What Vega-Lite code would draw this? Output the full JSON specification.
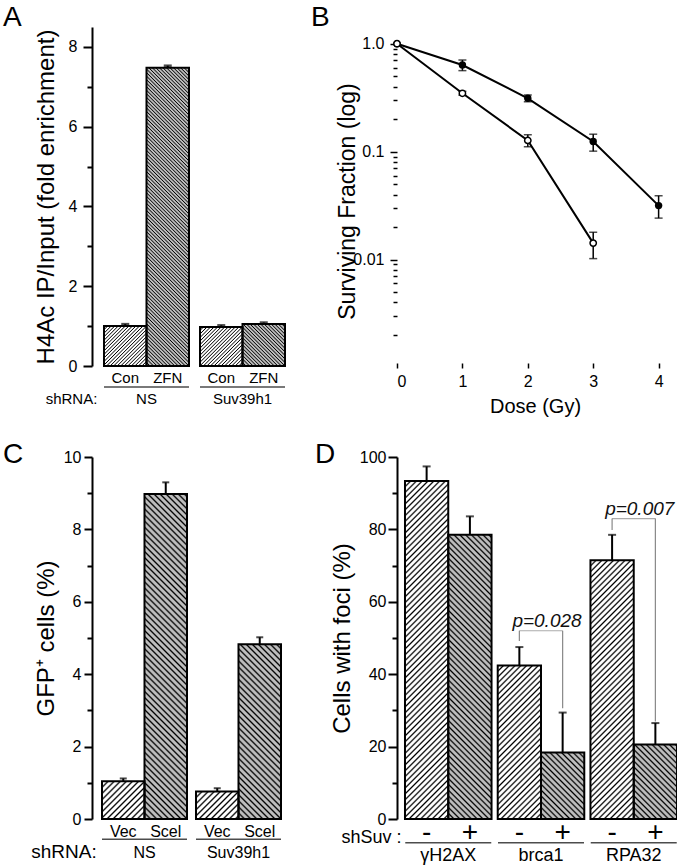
{
"$schema":"https://vega.github.io/schema/vega-lite/v6.json",
"autosize":{"type":"none"},
"padding":{"left":92,"top":27,"right":585,"bottom":841},
"background":"white",
"params":[{"name":"hatch","value":[
{"offset":0,"color":"#000"},{"offset":0.003,"color":"#0000"},{"offset":0.007,"color":"#0000"},
{"offset":0.01,"color":"#000"},{"offset":0.013,"color":"#0000"},{"offset":0.017,"color":"#0000"},
{"offset":0.02,"color":"#000"},{"offset":0.023,"color":"#0000"},{"offset":0.027,"color":"#0000"},
{"offset":0.03,"color":"#000"},{"offset":0.033,"color":"#0000"},{"offset":0.037,"color":"#0000"},
{"offset":0.04,"color":"#000"},{"offset":0.043,"color":"#0000"},{"offset":0.047,"color":"#0000"},
{"offset":0.05,"color":"#000"},{"offset":0.053,"color":"#0000"},{"offset":0.057,"color":"#0000"},
{"offset":0.06,"color":"#000"},{"offset":0.063,"color":"#0000"},{"offset":0.067,"color":"#0000"},
{"offset":0.07,"color":"#000"},{"offset":0.073,"color":"#0000"},{"offset":0.077,"color":"#0000"},
{"offset":0.08,"color":"#000"},{"offset":0.083,"color":"#0000"},{"offset":0.087,"color":"#0000"},
{"offset":0.09,"color":"#000"},{"offset":0.093,"color":"#0000"},{"offset":0.097,"color":"#0000"},
{"offset":0.1,"color":"#000"},{"offset":0.103,"color":"#0000"},{"offset":0.107,"color":"#0000"},
{"offset":0.11,"color":"#000"},{"offset":0.113,"color":"#0000"},{"offset":0.117,"color":"#0000"},
{"offset":0.12,"color":"#000"},{"offset":0.123,"color":"#0000"},{"offset":0.127,"color":"#0000"},
{"offset":0.13,"color":"#000"},{"offset":0.133,"color":"#0000"},{"offset":0.137,"color":"#0000"},
{"offset":0.14,"color":"#000"},{"offset":0.143,"color":"#0000"},{"offset":0.147,"color":"#0000"},
{"offset":0.15,"color":"#000"},{"offset":0.153,"color":"#0000"},{"offset":0.157,"color":"#0000"},
{"offset":0.16,"color":"#000"},{"offset":0.163,"color":"#0000"},{"offset":0.167,"color":"#0000"},
{"offset":0.17,"color":"#000"},{"offset":0.173,"color":"#0000"},{"offset":0.177,"color":"#0000"},
{"offset":0.18,"color":"#000"},{"offset":0.183,"color":"#0000"},{"offset":0.187,"color":"#0000"},
{"offset":0.19,"color":"#000"},{"offset":0.193,"color":"#0000"},{"offset":0.197,"color":"#0000"},
{"offset":0.2,"color":"#000"},{"offset":0.203,"color":"#0000"},{"offset":0.207,"color":"#0000"},
{"offset":0.21,"color":"#000"},{"offset":0.213,"color":"#0000"},{"offset":0.217,"color":"#0000"},
{"offset":0.22,"color":"#000"},{"offset":0.223,"color":"#0000"},{"offset":0.227,"color":"#0000"},
{"offset":0.23,"color":"#000"},{"offset":0.233,"color":"#0000"},{"offset":0.237,"color":"#0000"},
{"offset":0.24,"color":"#000"},{"offset":0.243,"color":"#0000"},{"offset":0.247,"color":"#0000"},
{"offset":0.25,"color":"#000"},{"offset":0.253,"color":"#0000"},{"offset":0.257,"color":"#0000"},
{"offset":0.26,"color":"#000"},{"offset":0.263,"color":"#0000"},{"offset":0.267,"color":"#0000"},
{"offset":0.27,"color":"#000"},{"offset":0.273,"color":"#0000"},{"offset":0.277,"color":"#0000"},
{"offset":0.28,"color":"#000"},{"offset":0.283,"color":"#0000"},{"offset":0.287,"color":"#0000"},
{"offset":0.29,"color":"#000"},{"offset":0.293,"color":"#0000"},{"offset":0.297,"color":"#0000"},
{"offset":0.3,"color":"#000"},{"offset":0.303,"color":"#0000"},{"offset":0.307,"color":"#0000"},
{"offset":0.31,"color":"#000"},{"offset":0.313,"color":"#0000"},{"offset":0.317,"color":"#0000"},
{"offset":0.32,"color":"#000"},{"offset":0.323,"color":"#0000"},{"offset":0.327,"color":"#0000"},
{"offset":0.33,"color":"#000"},{"offset":0.333,"color":"#0000"},{"offset":0.337,"color":"#0000"},
{"offset":0.34,"color":"#000"},{"offset":0.343,"color":"#0000"},{"offset":0.347,"color":"#0000"},
{"offset":0.35,"color":"#000"},{"offset":0.353,"color":"#0000"},{"offset":0.357,"color":"#0000"},
{"offset":0.36,"color":"#000"},{"offset":0.363,"color":"#0000"},{"offset":0.367,"color":"#0000"},
{"offset":0.37,"color":"#000"},{"offset":0.373,"color":"#0000"},{"offset":0.377,"color":"#0000"},
{"offset":0.38,"color":"#000"},{"offset":0.383,"color":"#0000"},{"offset":0.387,"color":"#0000"},
{"offset":0.39,"color":"#000"},{"offset":0.393,"color":"#0000"},{"offset":0.397,"color":"#0000"},
{"offset":0.4,"color":"#000"},{"offset":0.403,"color":"#0000"},{"offset":0.407,"color":"#0000"},
{"offset":0.41,"color":"#000"},{"offset":0.413,"color":"#0000"},{"offset":0.417,"color":"#0000"},
{"offset":0.42,"color":"#000"},{"offset":0.423,"color":"#0000"},{"offset":0.427,"color":"#0000"},
{"offset":0.43,"color":"#000"},{"offset":0.433,"color":"#0000"},{"offset":0.437,"color":"#0000"},
{"offset":0.44,"color":"#000"},{"offset":0.443,"color":"#0000"},{"offset":0.447,"color":"#0000"},
{"offset":0.45,"color":"#000"},{"offset":0.453,"color":"#0000"},{"offset":0.457,"color":"#0000"},
{"offset":0.46,"color":"#000"},{"offset":0.463,"color":"#0000"},{"offset":0.467,"color":"#0000"},
{"offset":0.47,"color":"#000"},{"offset":0.473,"color":"#0000"},{"offset":0.477,"color":"#0000"},
{"offset":0.48,"color":"#000"},{"offset":0.483,"color":"#0000"},{"offset":0.487,"color":"#0000"},
{"offset":0.49,"color":"#000"},{"offset":0.493,"color":"#0000"},{"offset":0.497,"color":"#0000"},
{"offset":0.5,"color":"#000"},{"offset":0.503,"color":"#0000"},{"offset":0.507,"color":"#0000"},
{"offset":0.51,"color":"#000"},{"offset":0.513,"color":"#0000"},{"offset":0.517,"color":"#0000"},
{"offset":0.52,"color":"#000"},{"offset":0.523,"color":"#0000"},{"offset":0.527,"color":"#0000"},
{"offset":0.53,"color":"#000"},{"offset":0.533,"color":"#0000"},{"offset":0.537,"color":"#0000"},
{"offset":0.54,"color":"#000"},{"offset":0.543,"color":"#0000"},{"offset":0.547,"color":"#0000"},
{"offset":0.55,"color":"#000"},{"offset":0.553,"color":"#0000"},{"offset":0.557,"color":"#0000"},
{"offset":0.56,"color":"#000"},{"offset":0.563,"color":"#0000"},{"offset":0.567,"color":"#0000"},
{"offset":0.57,"color":"#000"},{"offset":0.573,"color":"#0000"},{"offset":0.577,"color":"#0000"},
{"offset":0.58,"color":"#000"},{"offset":0.583,"color":"#0000"},{"offset":0.587,"color":"#0000"},
{"offset":0.59,"color":"#000"},{"offset":0.593,"color":"#0000"},{"offset":0.597,"color":"#0000"},
{"offset":0.6,"color":"#000"},{"offset":0.603,"color":"#0000"},{"offset":0.607,"color":"#0000"},
{"offset":0.61,"color":"#000"},{"offset":0.613,"color":"#0000"},{"offset":0.617,"color":"#0000"},
{"offset":0.62,"color":"#000"},{"offset":0.623,"color":"#0000"},{"offset":0.627,"color":"#0000"},
{"offset":0.63,"color":"#000"},{"offset":0.633,"color":"#0000"},{"offset":0.637,"color":"#0000"},
{"offset":0.64,"color":"#000"},{"offset":0.643,"color":"#0000"},{"offset":0.647,"color":"#0000"},
{"offset":0.65,"color":"#000"},{"offset":0.653,"color":"#0000"},{"offset":0.657,"color":"#0000"},
{"offset":0.66,"color":"#000"},{"offset":0.663,"color":"#0000"},{"offset":0.667,"color":"#0000"},
{"offset":0.67,"color":"#000"},{"offset":0.673,"color":"#0000"},{"offset":0.677,"color":"#0000"},
{"offset":0.68,"color":"#000"},{"offset":0.683,"color":"#0000"},{"offset":0.687,"color":"#0000"},
{"offset":0.69,"color":"#000"},{"offset":0.693,"color":"#0000"},{"offset":0.697,"color":"#0000"},
{"offset":0.7,"color":"#000"},{"offset":0.703,"color":"#0000"},{"offset":0.707,"color":"#0000"},
{"offset":0.71,"color":"#000"},{"offset":0.713,"color":"#0000"},{"offset":0.717,"color":"#0000"},
{"offset":0.72,"color":"#000"},{"offset":0.723,"color":"#0000"},{"offset":0.727,"color":"#0000"},
{"offset":0.73,"color":"#000"},{"offset":0.733,"color":"#0000"},{"offset":0.737,"color":"#0000"},
{"offset":0.74,"color":"#000"},{"offset":0.743,"color":"#0000"},{"offset":0.747,"color":"#0000"},
{"offset":0.75,"color":"#000"},{"offset":0.753,"color":"#0000"},{"offset":0.757,"color":"#0000"},
{"offset":0.76,"color":"#000"},{"offset":0.763,"color":"#0000"},{"offset":0.767,"color":"#0000"},
{"offset":0.77,"color":"#000"},{"offset":0.773,"color":"#0000"},{"offset":0.777,"color":"#0000"},
{"offset":0.78,"color":"#000"},{"offset":0.783,"color":"#0000"},{"offset":0.787,"color":"#0000"},
{"offset":0.79,"color":"#000"},{"offset":0.793,"color":"#0000"},{"offset":0.797,"color":"#0000"},
{"offset":0.8,"color":"#000"},{"offset":0.803,"color":"#0000"},{"offset":0.807,"color":"#0000"},
{"offset":0.81,"color":"#000"},{"offset":0.813,"color":"#0000"},{"offset":0.817,"color":"#0000"},
{"offset":0.82,"color":"#000"},{"offset":0.823,"color":"#0000"},{"offset":0.827,"color":"#0000"},
{"offset":0.83,"color":"#000"},{"offset":0.833,"color":"#0000"},{"offset":0.837,"color":"#0000"},
{"offset":0.84,"color":"#000"},{"offset":0.843,"color":"#0000"},{"offset":0.847,"color":"#0000"},
{"offset":0.85,"color":"#000"},{"offset":0.853,"color":"#0000"},{"offset":0.857,"color":"#0000"},
{"offset":0.86,"color":"#000"},{"offset":0.863,"color":"#0000"},{"offset":0.867,"color":"#0000"},
{"offset":0.87,"color":"#000"},{"offset":0.873,"color":"#0000"},{"offset":0.877,"color":"#0000"},
{"offset":0.88,"color":"#000"},{"offset":0.883,"color":"#0000"},{"offset":0.887,"color":"#0000"},
{"offset":0.89,"color":"#000"},{"offset":0.893,"color":"#0000"},{"offset":0.897,"color":"#0000"},
{"offset":0.9,"color":"#000"},{"offset":0.903,"color":"#0000"},{"offset":0.907,"color":"#0000"},
{"offset":0.91,"color":"#000"},{"offset":0.913,"color":"#0000"},{"offset":0.917,"color":"#0000"},
{"offset":0.92,"color":"#000"},{"offset":0.923,"color":"#0000"},{"offset":0.927,"color":"#0000"},
{"offset":0.93,"color":"#000"},{"offset":0.933,"color":"#0000"},{"offset":0.937,"color":"#0000"},
{"offset":0.94,"color":"#000"},{"offset":0.943,"color":"#0000"},{"offset":0.947,"color":"#0000"},
{"offset":0.95,"color":"#000"},{"offset":0.953,"color":"#0000"},{"offset":0.957,"color":"#0000"},
{"offset":0.96,"color":"#000"},{"offset":0.963,"color":"#0000"},{"offset":0.967,"color":"#0000"},
{"offset":0.97,"color":"#000"},{"offset":0.973,"color":"#0000"},{"offset":0.977,"color":"#0000"},
{"offset":0.98,"color":"#000"},{"offset":0.983,"color":"#0000"},{"offset":0.987,"color":"#0000"},
{"offset":0.99,"color":"#000"},{"offset":0.993,"color":"#0000"},{"offset":0.997,"color":"#0000"},
{"offset":1,"color":"#000"}
]}],
"config":{
 "view":{"stroke":null},
 "font":"Liberation Sans",
 "axis":{"labelFont":"Liberation Sans","titleFont":"Liberation Sans","labelColor":"#000","titleColor":"#000","domainColor":"#000","tickColor":"#000","titleFontWeight":"normal","grid":false,"domainWidth":2,"tickWidth":2},
 "text":{"font":"Liberation Sans","color":"#000"},
 "title":{"font":"Liberation Sans","fontWeight":"normal","color":"#000","fontSize":28,"anchor":"start","frame":"group","offset":2}
},
"datasets":{
 "aBars":[
  {"g":"NS","t":"Con","v":1.0,"hi":1.05},
  {"g":"NS","t":"ZFN","v":7.48,"hi":7.53},
  {"g":"Suv39h1","t":"Con","v":0.98,"hi":1.02},
  {"g":"Suv39h1","t":"ZFN","v":1.05,"hi":1.09}
 ],
 "bPts":[
  {"s":"control","d":0,"f":1,"lo":null,"hi":null},
  {"s":"control","d":1,"f":0.635,"lo":0.563,"hi":0.706},
  {"s":"control","d":2,"f":0.312,"lo":0.29,"hi":0.335},
  {"s":"control","d":3,"f":0.124,"lo":0.101,"hi":0.145},
  {"s":"control","d":4,"f":0.0316,"lo":0.0242,"hi":0.039},
  {"s":"Suv39h1","d":0,"f":1,"lo":null,"hi":null},
  {"s":"Suv39h1","d":1,"f":0.347,"lo":0.333,"hi":0.362},
  {"s":"Suv39h1","d":2,"f":0.127,"lo":0.111,"hi":0.143},
  {"s":"Suv39h1","d":3,"f":0.0142,"lo":0.0102,"hi":0.0179}
 ],
 "cBars":[
  {"g":"NS","t":"Vec","v":1.04,"hi":1.12},
  {"g":"NS","t":"Scel","v":8.98,"hi":9.3},
  {"g":"Suv39h1","t":"Vec","v":0.76,"hi":0.85},
  {"g":"Suv39h1","t":"Scel","v":4.83,"hi":5.02}
 ],
 "dBars":[
  {"g":"γH2AX","t":"-","v":93.4,"hi":97.4},
  {"g":"γH2AX","t":"+","v":78.5,"hi":83.6},
  {"g":"brca1","t":"-","v":42.4,"hi":47.5},
  {"g":"brca1","t":"+","v":18.4,"hi":29.4},
  {"g":"RPA32","t":"-","v":71.5,"hi":78.5},
  {"g":"RPA32","t":"+","v":20.6,"hi":26.5}
 ],
 "dBr":[
  {"g":"brca1","t":"-","y":49.2,"y2":52},
  {"g":"brca1","t":"+","y":30.6,"y2":52},
  {"g":"RPA32","t":"-","y":79.8,"y2":83},
  {"g":"RPA32","t":"+","y":26.9,"y2":83}
 ],
 "dP":[
  {"g":"brca1","y":52,"ty":53,"p":"p=0.028"},
  {"g":"RPA32","y":83,"ty":84,"p":"p=0.007"}
 ]
},
"columns":2,
"bounds":"flush",
"align":{"row":"each","column":"none"},
"spacing":{"row":91,"column":100},
"concat":[
 {
  "width":205,"height":339,
  "title":{"text":"A","dx":-89,"dy":7},
  "data":{"name":"aBars"},
  "encoding":{
   "x":{"field":"g","type":"nominal","sort":["NS","Suv39h1"],"scale":{"paddingInner":0.1146,"paddingOuter":0.125},
    "axis":{"title":"shRNA:","domain":false,"ticks":false,"tickSize":0,"labelAngle":0,"labelFontSize":15,"labelPadding":37,"labelBaseline":"alphabetic","titleFontSize":15,"titleX":-21,"titleY":37,"titleAlign":"center","titleBaseline":"alphabetic"}},
   "y":{"field":"v","type":"quantitative","stack":null,"scale":{"domain":[0,8.5],"nice":false},
    "axis":{"title":"H4Ac IP/Input (fold enrichment)","values":[0,1,2,3,4,5,6,7,8],"labelExpr":"datum.value % 2 == 0 ? datum.label : ''","tickSize":{"condition":{"test":"datum.value % 2 == 0","value":9},"value":5},"labelFontSize":16,"labelPadding":6,"titleFontSize":24,"titleX":-39,"titleBaseline":"alphabetic"}}
  },
  "layer":[
   {"mark":{"type":"bar","width":42.5,"xOffset":{"expr":"datum.t=='Con'?-21.25:21.25"}},"encoding":{"fill":{"field":"t","type":"nominal","scale":{"domain":["Con","ZFN"],"range":["#ffffff","#bdbdbd"]},"legend":null}}},
   {"mark":{"type":"bar","width":42.5,"xOffset":{"expr":"datum.t=='Con'?-21.25:21.25"},"stroke":"#000","strokeWidth":2,"fill":{"expr":"{gradient:'linear',x1:0,y1:datum.t=='Con'?0:1,x2:15026/(1806+pow(datum.v*39.88,2)),y2:datum.t=='Con'?14100*datum.v/(1806+pow(datum.v*39.88,2)):1-14100*datum.v/(1806+pow(datum.v*39.88,2)),stops:hatch}"}}},
   {"mark":{"type":"rule","color":"#000","strokeWidth":2,"xOffset":{"expr":"datum.t=='Con'?-21.25:21.25"}},"encoding":{"y2":{"field":"hi"}}},
   {"mark":{"type":"tick","orient":"horizontal","color":"#000","size":8,"thickness":2.5,"xOffset":{"expr":"datum.t=='Con'?-21.25:21.25"}},"encoding":{"y":{"field":"hi","type":"quantitative"}}},
   {"mark":{"type":"text","fontSize":15,"baseline":"alphabetic","xOffset":{"expr":"datum.t=='Con'?-21.25:21.25"}},"encoding":{"y":{"datum":-0.426},"text":{"field":"t"}}},
   {"transform":[{"filter":"datum.t == 'Con'"}],"mark":{"type":"tick","orient":"horizontal","color":"#000","size":85,"thickness":1.5},"encoding":{"y":{"datum":-0.527}}}
  ]
 },
 {
  "width":276,"height":336,
  "title":{"text":"B","dx":-86,"dy":7},
  "data":{"name":"bPts"},
  "encoding":{
   "x":{"field":"d","type":"quantitative","scale":{"domain":[0,4.22],"nice":false,"zero":false},
    "axis":{"title":"Dose (Gy)","values":[0,0.5,1,1.5,2,2.5,3,3.5,4],"format":"d","labelExpr":"datum.value % 1 == 0 ? datum.label : ''","domain":false,"tickSize":5,"tickWidth":1.5,"labelFontSize":16,"labelPadding":5,"titleFontSize":20,"titleY":49,"titleBaseline":"alphabetic"}},
   "y":{"field":"f","type":"quantitative","scale":{"type":"log","domain":[0.0011,1.428],"nice":false},
    "axis":{"title":"Surviving Fraction (log)","values":[0.002,0.003,0.004,0.005,0.006,0.007,0.008,0.009,0.01,0.02,0.03,0.04,0.05,0.06,0.07,0.08,0.09,0.1,0.2,0.3,0.4,0.5,0.6,0.7,0.8,0.9,1],"labelExpr":"datum.value == 1 ? '1.0' : datum.value == 0.1 ? '0.1' : datum.value == 0.01 ? '0.01' : ''","domain":false,"tickSize":{"condition":{"test":"datum.value == 1 || datum.value == 0.1 || datum.value == 0.01","value":7},"value":4},"tickWidth":1.5,"labelFontSize":16,"labelPadding":6,"titleFontSize":23,"titleX":-43,"titleY":174,"titleBaseline":"alphabetic"}}
  },
  "layer":[
   {"data":{"values":[{}]},"mark":{"type":"rect","filled":false,"color":"#000","strokeWidth":2},"encoding":{"x":{"datum":0},"x2":{"datum":4.22},"y":{"datum":0.0011},"y2":{"datum":1.105}}},
   {"mark":{"type":"line","color":"#000","strokeWidth":2},"encoding":{"detail":{"field":"s"}}},
   {"transform":[{"filter":"datum.lo != null"}],"mark":{"type":"rule","color":"#000","strokeWidth":1.5},"encoding":{"y":{"field":"lo","type":"quantitative"},"y2":{"field":"hi"}}},
   {"transform":[{"filter":"datum.lo != null"}],"mark":{"type":"tick","orient":"horizontal","color":"#000","size":8,"thickness":1.5},"encoding":{"y":{"field":"lo","type":"quantitative"}}},
   {"transform":[{"filter":"datum.lo != null"}],"mark":{"type":"tick","orient":"horizontal","color":"#000","size":8,"thickness":1.5},"encoding":{"y":{"field":"hi","type":"quantitative"}}},
   {"transform":[{"filter":"datum.s == 'control'"}],"mark":{"type":"point","filled":true,"color":"#000","size":55,"opacity":1}},
   {"transform":[{"filter":"datum.s == 'Suv39h1'"}],"mark":{"type":"point","filled":true,"fill":"#fff","stroke":"#000","strokeWidth":1.5,"size":40,"opacity":1}}
  ]
 },
 {
  "width":199,"height":362,
  "title":{"text":"C","dx":-89,"dy":22},
  "data":{"name":"cBars"},
  "encoding":{
   "x":{"field":"g","type":"nominal","sort":["NS","Suv39h1"],"scale":{"paddingInner":0.0957,"paddingOuter":0.1064},
    "axis":{"title":"shRNA:","domain":false,"ticks":false,"tickSize":0,"labelAngle":0,"labelFontSize":16,"labelPadding":38,"labelBaseline":"alphabetic","titleFontSize":19,"titleX":-28.5,"titleY":38,"titleAlign":"center","titleBaseline":"alphabetic"}},
   "y":{"field":"v","type":"quantitative","stack":null,"scale":{"domain":[0,10],"nice":false},
    "axis":{"title":"GFP⁺ cells (%)","values":[0,1,2,3,4,5,6,7,8,9,10],"labelExpr":"datum.value % 2 == 0 ? datum.label : ''","tickSize":{"condition":{"test":"datum.value % 2 == 0","value":8},"value":5},"labelFontSize":16,"labelPadding":3,"titleFontSize":24,"titleX":-39,"titleBaseline":"alphabetic"}}
  },
  "layer":[
   {"mark":{"type":"bar","width":42.5,"xOffset":{"expr":"datum.t=='Vec'?-21.25:21.25"}},"encoding":{"fill":{"field":"t","type":"nominal","scale":{"domain":["Vec","Scel"],"range":["#ffffff","#bdbdbd"]},"legend":null}}},
   {"mark":{"type":"bar","width":42.5,"xOffset":{"expr":"datum.t=='Vec'?-21.25:21.25"},"stroke":"#000","strokeWidth":2,"fill":{"expr":"{gradient:'linear',x1:0,y1:datum.t=='Vec'?0:1,x2:25845/(1806+pow(datum.v*36.2,2)),y2:datum.t=='Vec'?22013*datum.v/(1806+pow(datum.v*36.2,2)):1-22013*datum.v/(1806+pow(datum.v*36.2,2)),stops:hatch}"}}},
   {"mark":{"type":"rule","color":"#000","strokeWidth":2,"xOffset":{"expr":"datum.t=='Vec'?-21.25:21.25"}},"encoding":{"y2":{"field":"hi"}}},
   {"mark":{"type":"tick","orient":"horizontal","color":"#000","size":7,"thickness":2,"xOffset":{"expr":"datum.t=='Vec'?-21.25:21.25"}},"encoding":{"y":{"field":"hi","type":"quantitative"}}},
   {"mark":{"type":"text","fontSize":16,"baseline":"alphabetic","xOffset":{"expr":"datum.t=='Vec'?-21.25:21.25"}},"encoding":{"y":{"datum":-0.489},"text":{"field":"t"}}},
   {"transform":[{"filter":"datum.t == 'Vec'"}],"mark":{"type":"tick","orient":"horizontal","color":"#000","size":85,"thickness":1.5},"encoding":{"y":{"datum":-0.561}}}
  ]
 },
 {
  "width":288,"height":362,
  "title":{"text":"D","dx":-82,"dy":22},
  "data":{"name":"dBars"},
  "encoding":{
   "x":{"field":"g","type":"nominal","sort":["γH2AX","brca1","RPA32"],"scale":{"paddingInner":0.0668,"paddingOuter":0.0862},
    "axis":{"title":"shSuv :","domain":false,"ticks":false,"tickSize":0,"labelAngle":0,"labelFontSize":18,"labelPadding":41,"labelBaseline":"alphabetic","titleFontSize":18,"titleX":-26,"titleY":23,"titleAlign":"center","titleBaseline":"alphabetic"}},
   "y":{"field":"v","type":"quantitative","stack":null,"scale":{"domain":[0,100],"nice":false},
    "axis":{"title":"Cells with foci (%)","values":[0,10,20,30,40,50,60,70,80,90,100],"labelExpr":"datum.value % 20 == 0 ? datum.label : ''","tickSize":{"condition":{"test":"datum.value % 20 == 0","value":9},"value":5},"labelFontSize":16,"labelPadding":2,"titleFontSize":24,"titleX":-48,"titleBaseline":"alphabetic"}}
  },
  "layer":[
   {"mark":{"type":"bar","width":43.27,"xOffset":{"expr":"datum.t=='-'?-21.64:21.64"}},"encoding":{"fill":{"field":"t","type":"nominal","scale":{"domain":["-","+"],"range":["#ffffff","#bdbdbd"]},"legend":null}}},
   {"mark":{"type":"bar","width":43.27,"xOffset":{"expr":"datum.t=='-'?-21.64:21.64"},"stroke":"#000","strokeWidth":2,"fill":{"expr":"{gradient:'linear',x1:0,y1:datum.t=='-'?0:1,x2:25088/(1872+pow(datum.v*3.62,2)),y2:datum.t=='-'?2099*datum.v/(1872+pow(datum.v*3.62,2)):1-2099*datum.v/(1872+pow(datum.v*3.62,2)),stops:hatch}"}}},
   {"mark":{"type":"rule","color":"#000","strokeWidth":2,"xOffset":{"expr":"datum.t=='-'?-21.64:21.64"}},"encoding":{"y2":{"field":"hi"}}},
   {"mark":{"type":"tick","orient":"horizontal","color":"#000","size":8,"thickness":2,"xOffset":{"expr":"datum.t=='-'?-21.64:21.64"}},"encoding":{"y":{"field":"hi","type":"quantitative"}}},
   {"mark":{"type":"text","fontSize":28,"baseline":"alphabetic","xOffset":{"expr":"datum.t=='-'?-21.64:21.64"}},"encoding":{"y":{"datum":-6.08},"text":{"field":"t"}}},
   {"transform":[{"filter":"datum.t == '-'"}],"mark":{"type":"tick","orient":"horizontal","color":"#000","size":86,"thickness":1.5},"encoding":{"y":{"datum":-6.55}}},
   {"data":{"name":"dBr"},"mark":{"type":"rule","color":"#888","strokeWidth":1.2,"xOffset":{"expr":"datum.t=='-'?-21.64:21.64"}},"encoding":{"y":{"field":"y","type":"quantitative"},"y2":{"field":"y2"}}},
   {"data":{"name":"dP"},"mark":{"type":"tick","orient":"horizontal","color":"#888","size":43.3,"thickness":1.2},"encoding":{"y":{"field":"y","type":"quantitative"}}},
   {"data":{"name":"dP"},"mark":{"type":"text","fontSize":19,"fontStyle":"italic","baseline":"alphabetic","dx":6,"color":"#111"},"encoding":{"y":{"field":"ty","type":"quantitative"},"text":{"field":"p"}}}
  ]
 }
]
}
